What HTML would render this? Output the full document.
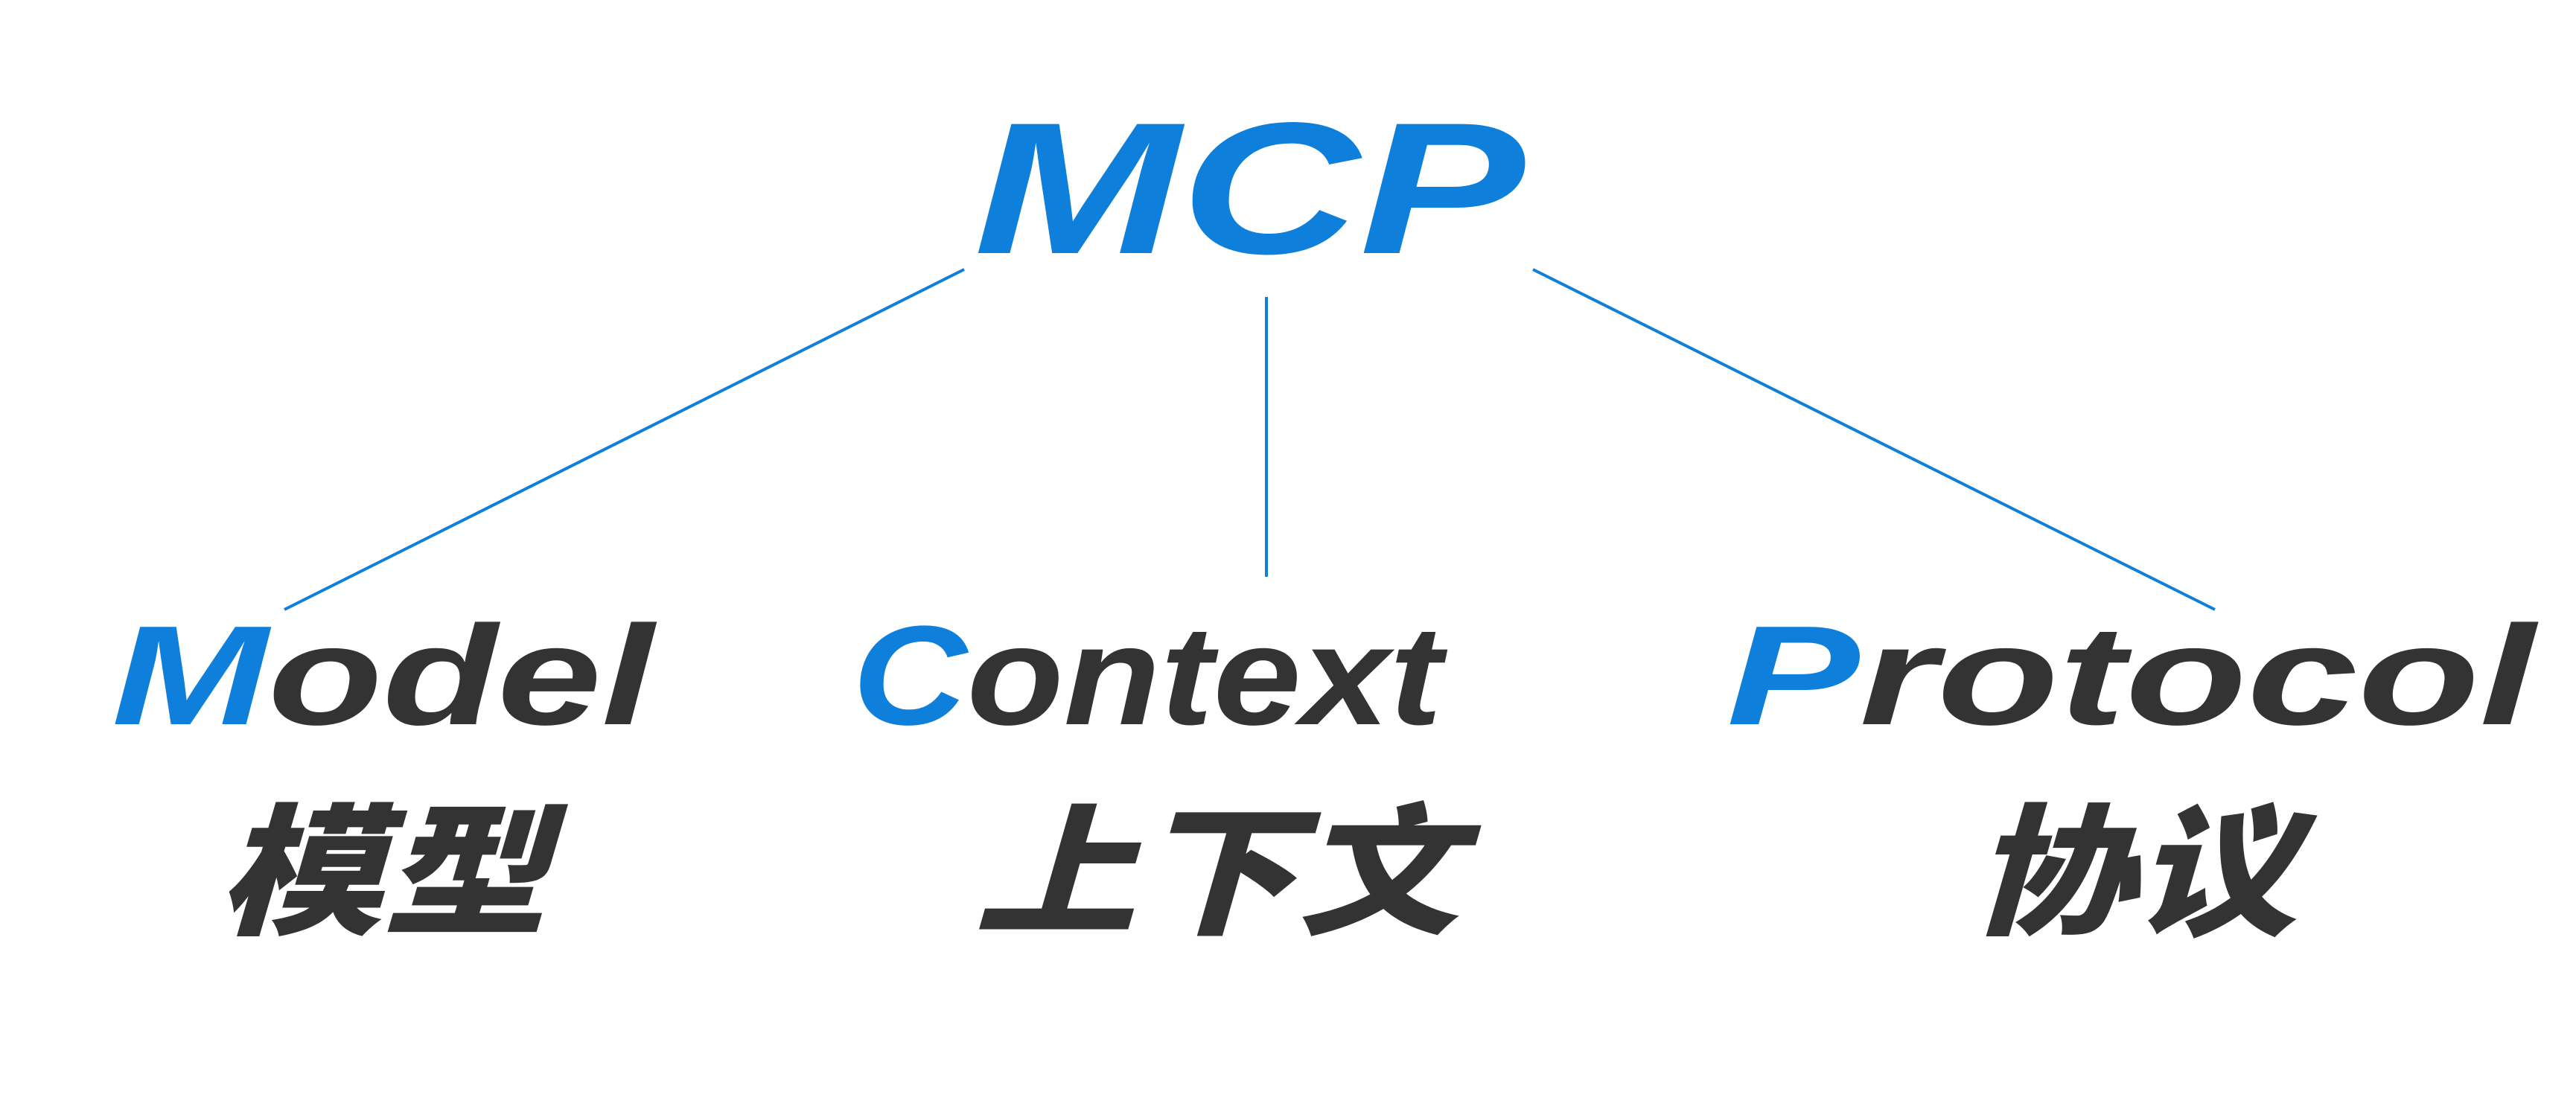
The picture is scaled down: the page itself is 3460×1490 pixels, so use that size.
<!DOCTYPE html>
<html><head><meta charset="utf-8"><style>
html,body{margin:0;padding:0;background:#fff;}
svg{display:block;}
text{font-family:"Liberation Sans","Noto Sans CJK SC",sans-serif;font-weight:bold;font-style:italic;}
text.cjk{font-weight:900;}
</style></head><body>
<svg width="3460" height="1490" viewBox="0 0 3460 1490" xmlns="http://www.w3.org/2000/svg">
<rect width="3460" height="1490" fill="#fff"/>
<g stroke="#0e7fdb" stroke-width="4">
<line x1="1295" y1="362" x2="382" y2="819"/>
<line x1="1701" y1="399" x2="1701" y2="775"/>
<line x1="2059" y1="362" x2="2975" y2="819"/>
</g>
<text x="1308" y="340" font-size="252" fill="#0e7fdb" textLength="740" lengthAdjust="spacingAndGlyphs">MCP</text>
<text x="150" y="973" font-size="190" fill="#333" textLength="728" lengthAdjust="spacingAndGlyphs"><tspan fill="#0e7fdb">M</tspan>odel</text>
<text x="1145" y="973" font-size="190" fill="#333" textLength="792" lengthAdjust="spacingAndGlyphs"><tspan fill="#0e7fdb">C</tspan>ontext</text>
<text x="2319" y="973" font-size="190" fill="#333" textLength="1086" lengthAdjust="spacingAndGlyphs"><tspan fill="#0e7fdb">P</tspan>rotocol</text>
<text class="cjk" x="293" y="1240" font-size="190" fill="#333" textLength="442" lengthAdjust="spacingAndGlyphs">模型</text>
<text class="cjk" x="1309" y="1240" font-size="190" fill="#333" textLength="651" lengthAdjust="spacingAndGlyphs">上下文</text>
<text class="cjk" x="2646" y="1240" font-size="190" fill="#333" textLength="439" lengthAdjust="spacingAndGlyphs">协议</text>
</svg>
</body></html>
